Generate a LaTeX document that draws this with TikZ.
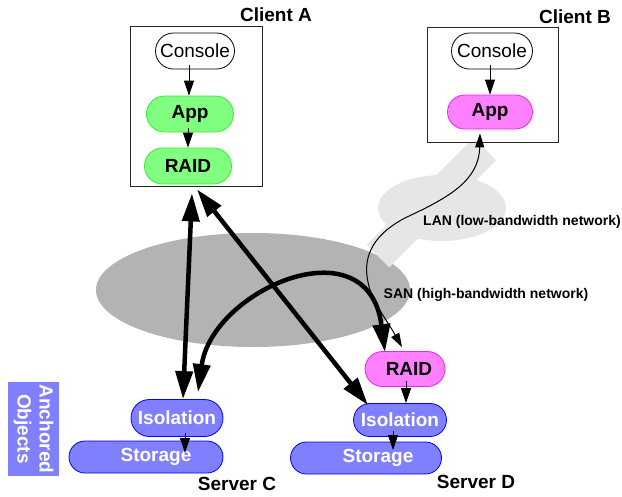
\documentclass[tikz,border=0pt]{standalone}
\usepackage{fontspec}
\setmainfont{Liberation Sans}
\usetikzlibrary{arrows.meta,shapes.misc}
\definecolor{lancol}{HTML}{E6E6E6}
\definecolor{sancol}{HTML}{B3B3B3}
\definecolor{gfill}{HTML}{80FF80}
\definecolor{gline}{HTML}{33EE33}
\definecolor{mfill}{HTML}{FF80FF}
\definecolor{mline}{HTML}{EE22EE}
\definecolor{bfill}{HTML}{8080FF}
\definecolor{bline}{HTML}{0000FF}
\begin{document}
\begin{tikzpicture}[x=1pt,y=-1pt,
  pill/.style={rounded rectangle, inner sep=0pt, line width=0.8pt, font=\bfseries\fontsize{19}{21}\selectfont},
  wpill/.style={pill, draw=black, fill=white, font=\fontsize{19}{21}\selectfont},
  gpill/.style={pill, draw=gline, fill=gfill},
  mpill/.style={pill, draw=mline, fill=mfill},
  bpill/.style={pill, draw=bline, fill=bfill, text=white},
  cbox/.style={draw=black!85, fill=white, line width=1pt, inner sep=0pt},
  ttl/.style={font=\bfseries\fontsize{19}{21}\selectfont},
  lab/.style={font=\bfseries\fontsize{14}{16}\selectfont},
  smallarr/.style={line width=1pt, -{Triangle[length=15pt,width=10pt]}},
  bigarr/.style={line width=4.5pt, {Triangle[length=28pt,width=17pt]}-{Triangle[length=28pt,width=17pt]}},
  lanarr/.style={line width=1pt, {Triangle[length=14pt,width=9pt]}-{Triangle[length=14pt,width=9pt]}}
]
\useasboundingbox (0,0) rectangle (622,496);
\fill[white] (0,0) rectangle (622,496);

% network clouds
\fill[sancol] (253,290) ellipse [x radius=157, y radius=57];
\draw[lancol, line width=32pt] (378,256) -- (485,149);
\fill[lancol] (442,208) ellipse [x radius=64, y radius=33];

% client boxes
\node[cbox, minimum width=132pt, minimum height=160pt] (cla) at (196,106) {};
\node[cbox, minimum width=131pt, minimum height=115pt] (clb) at (492.5,84.5) {};
\node[ttl] (tcla) at (276,15) {Client A};
\node[ttl] (tclb) at (575,17) {Client B};

% nodes
\node[wpill, minimum width=79pt, minimum height=36pt] (cona) at (195,51) {Console};
\node[gpill, minimum width=87pt, minimum height=36pt] (appa) at (190,114) {App};
\node[gpill, minimum width=87pt, minimum height=36pt] (raida) at (188,166) {RAID};
\node[wpill, minimum width=81pt, minimum height=36pt] (conb) at (492,51) {Console};
\node[mpill, minimum width=85pt, minimum height=34pt] (appb) at (490,112) {App};
\node[mpill, minimum width=80pt, minimum height=35pt] (raidd) at (405,369) {\hspace*{8pt}RAID};
\node[bpill, minimum width=93pt, minimum height=33pt] (isod) at (400,420) {Isolation};
\node[bpill, minimum width=151pt, minimum height=32pt] (stod) at (366,458) {\hspace*{24pt}Storage};
\node[bpill, minimum width=92pt, minimum height=37pt] (isoc) at (177,418) {Isolation};
\node[bpill, minimum width=154pt, minimum height=32pt] (stoc) at (146,457) {\hspace*{20pt}Storage};

\node[ttl] (srvc) at (237,484) {Server C};
\node[ttl] (srvd) at (476,482) {Server D};

\node[fill=bfill, rotate=-90, minimum width=94pt, minimum height=51pt, inner sep=0pt,
      align=center, text=white, font=\bfseries\fontsize{19}{22}\selectfont] (anch) at (33.5,429) {Anchored\\Objects};

% small arrows
\draw[smallarr] ([shift={(-6,-4)}]cona.south) -- ([xshift=-1pt]appa.north);
\draw[smallarr] ([shift={(-2,-4)}]appa.south) -- (raida.north);
\draw[smallarr] ([shift={(-2,-4)}]conb.south) -- (appb.north);
\draw[smallarr] ([shift={(1,-6)}]raidd.south) -- ([xshift=6pt]isod.north);
\draw[smallarr] ([shift={(-7,-6)}]isod.south) -- ([shift={(27,-8)}]stod.center);
\draw[smallarr] ([shift={(8,-4)}]isoc.south) -- ([shift={(39,-4)}]stoc.center);

% thick SAN arrows
\draw[bigarr] ([shift={(4,9)}]raida.south) -- ([xshift=6pt]isoc.north);
\draw[bigarr] ([shift={(9,5)}]raida.south) -- ([shift={(-32,2)}]isod.north);
\draw[bigarr] ([shift={(21,-7)}]isoc.north) .. controls (212,290) and (368,222) .. ([shift={(-20,1)}]raidd.north);

% thin LAN arrow
\draw[lanarr] ([shift={(-10,4)}]appb.south) .. controls (479,180) and (450,197) .. (407,217)
   .. controls (375,233) and (362,255) .. (368,282)
   .. controls (371,300) and (388,322) .. ([shift={(-3,-4)}]raidd.north);

% labels
\node[lab] (lanl) at (522,222) {LAN (low-bandwidth network)};
\node[lab] (sanl) at (486,295) {SAN (high-bandwidth network)};
\end{tikzpicture}
\end{document}
